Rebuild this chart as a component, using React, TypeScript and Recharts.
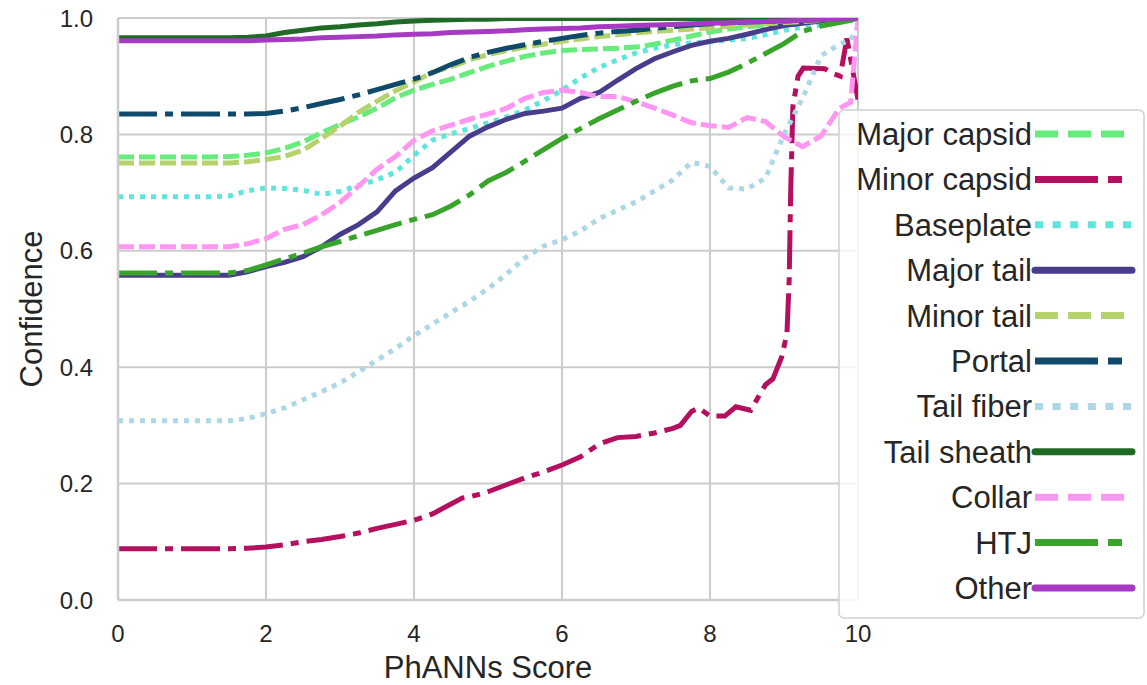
import React from "react";
import { LineChart, Line, XAxis, YAxis, CartesianGrid, Legend, Label } from "recharts";

// ---- data ----
const scores = [0, 0.25, 0.5, 0.75, 1, 1.25, 1.5, 1.75, 2, 2.25, 2.5, 2.75, 3, 3.25, 3.5, 3.75, 4, 4.25, 4.5, 4.75, 5, 5.25, 5.5, 5.75, 6, 6.25, 6.5, 6.75, 7, 7.25, 7.5, 7.75, 8, 8.25, 8.5, 8.75, 9, 9.25, 9.5, 9.75, 9.9, 10];

const majorCapsid = [0.761, 0.761, 0.761, 0.761, 0.761, 0.761, 0.762, 0.764, 0.768, 0.776, 0.787, 0.803, 0.817, 0.83, 0.845, 0.863, 0.876, 0.886, 0.895, 0.906, 0.917, 0.926, 0.934, 0.94, 0.944, 0.946, 0.947, 0.948, 0.95, 0.955, 0.962, 0.969, 0.976, 0.981, 0.985, 0.988, 0.991, 0.994, 0.996, 0.998, 0.999, 1.0];
const baseplate = [0.693, 0.693, 0.693, 0.693, 0.693, 0.693, 0.694, 0.703, 0.708, 0.707, 0.704, 0.697, 0.702, 0.712, 0.722, 0.735, 0.764, 0.79, 0.801, 0.81, 0.82, 0.83, 0.842, 0.858, 0.876, 0.897, 0.915, 0.928, 0.94, 0.948, 0.954, 0.957, 0.959, 0.962, 0.965, 0.971, 0.979, 0.984, 0.988, 0.993, 0.996, 1.0];
const majorTail = [0.558, 0.558, 0.558, 0.558, 0.558, 0.558, 0.558, 0.564, 0.573, 0.58, 0.59, 0.607, 0.628, 0.645, 0.667, 0.703, 0.725, 0.743, 0.77, 0.797, 0.813, 0.826, 0.836, 0.84, 0.845, 0.862, 0.872, 0.893, 0.913, 0.93, 0.942, 0.953, 0.96, 0.965, 0.972, 0.98, 0.987, 0.991, 0.995, 0.998, 0.999, 1.0];
const minorTail = [0.751, 0.751, 0.751, 0.751, 0.751, 0.751, 0.751, 0.753, 0.757, 0.762, 0.773, 0.793, 0.814, 0.838, 0.857, 0.875, 0.89, 0.907, 0.916, 0.928, 0.937, 0.944, 0.95, 0.955, 0.96, 0.964, 0.968, 0.971, 0.974, 0.977, 0.979, 0.981, 0.983, 0.986, 0.988, 0.99, 0.992, 0.994, 0.996, 0.998, 0.999, 1.0];
const portal = [0.835, 0.835, 0.835, 0.835, 0.835, 0.835, 0.835, 0.835, 0.836, 0.84, 0.846, 0.853, 0.86, 0.868, 0.877, 0.886, 0.895, 0.906, 0.92, 0.932, 0.941, 0.948, 0.954, 0.96, 0.965, 0.97, 0.974, 0.977, 0.979, 0.982, 0.985, 0.988, 0.99, 0.992, 0.993, 0.994, 0.995, 0.996, 0.997, 0.998, 0.999, 1.0];
const tailFiber = [0.308, 0.308, 0.308, 0.308, 0.308, 0.308, 0.308, 0.312, 0.32, 0.33, 0.344, 0.358, 0.373, 0.392, 0.412, 0.432, 0.454, 0.474, 0.494, 0.513, 0.535, 0.56, 0.588, 0.608, 0.619, 0.634, 0.655, 0.67, 0.684, 0.703, 0.722, 0.752, 0.745, 0.708, 0.706, 0.725, 0.8, 0.862, 0.935, 0.955, 0.962, 0.985];
const tailSheath = [0.966, 0.966, 0.966, 0.966, 0.966, 0.966, 0.966, 0.967, 0.969, 0.975, 0.979, 0.983, 0.985, 0.988, 0.99, 0.993, 0.995, 0.996, 0.997, 0.998, 0.998, 0.999, 0.999, 0.999, 0.999, 0.999, 0.999, 0.999, 0.999, 0.999, 0.999, 0.999, 0.999, 0.999, 0.999, 0.999, 0.999, 0.999, 0.999, 0.999, 1.0, 1.0];
const collar = [0.607, 0.607, 0.607, 0.607, 0.607, 0.607, 0.607, 0.612, 0.621, 0.637, 0.645, 0.662, 0.683, 0.711, 0.74, 0.762, 0.79, 0.806, 0.816, 0.826, 0.835, 0.845, 0.862, 0.872, 0.876, 0.872, 0.865, 0.865, 0.856, 0.845, 0.833, 0.82, 0.815, 0.812, 0.829, 0.822, 0.796, 0.779, 0.797, 0.845, 0.855, 0.998];
const htj = [0.562, 0.562, 0.562, 0.562, 0.562, 0.562, 0.562, 0.566, 0.576, 0.586, 0.596, 0.607, 0.616, 0.626, 0.635, 0.645, 0.654, 0.662, 0.677, 0.696, 0.72, 0.735, 0.754, 0.774, 0.793, 0.81, 0.827, 0.842, 0.857, 0.871, 0.883, 0.892, 0.896, 0.907, 0.922, 0.939, 0.956, 0.977, 0.986, 0.992, 0.996, 1.0];
const other = [0.961, 0.961, 0.961, 0.961, 0.961, 0.961, 0.961, 0.961, 0.962, 0.963, 0.964, 0.966, 0.967, 0.968, 0.969, 0.971, 0.972, 0.973, 0.975, 0.976, 0.977, 0.978, 0.98, 0.981, 0.982, 0.983, 0.985, 0.986, 0.987, 0.988, 0.989, 0.99, 0.991, 0.992, 0.993, 0.994, 0.995, 0.996, 0.997, 0.998, 0.999, 1.0];

const minorCapsidScores = [0, 1.5, 1.75, 2, 2.25, 2.5, 2.75, 3, 3.25, 3.5, 3.75, 4, 4.25, 4.5, 4.65, 4.75, 5, 5.25, 5.5, 5.75, 6, 6.25, 6.5, 6.75, 7, 7.25, 7.5, 7.6, 7.75, 7.85, 8, 8.2, 8.35, 8.55, 8.75, 8.85, 8.97, 9.04, 9.07, 9.09, 9.12, 9.19, 9.26, 9.55, 9.65, 9.76, 9.85, 10];
const minorCapsid = [0.088, 0.088, 0.089, 0.091, 0.095, 0.1, 0.104, 0.109, 0.115, 0.123, 0.13, 0.137, 0.148, 0.165, 0.175, 0.177, 0.186, 0.198, 0.21, 0.22, 0.232, 0.246, 0.268, 0.279, 0.281, 0.287, 0.295, 0.3, 0.324, 0.33, 0.316, 0.316, 0.332, 0.326, 0.37, 0.38, 0.418, 0.458, 0.55, 0.7, 0.848, 0.9, 0.914, 0.913, 0.905, 0.9, 0.965, 0.86];

const xTicks = [0, 2, 4, 6, 8, 10];
const yTicks = [0, 0.2, 0.4, 0.6, 0.8, 1.0];

type Style = "solid" | "dashed" | "dashdot" | "dotted";

const zip = (xs: number[], ys: number[]) => xs.map((x, i) => ({ x, y: ys[i] }));

const SERIES: { name: string; color: string; style: Style; data: { x: number; y: number }[] }[] = [
  { name: "Major capsid", color: "#66eb7c", style: "dashed", data: zip(scores, majorCapsid) },
  { name: "Minor capsid", color: "#b5105f", style: "dashdot", data: zip(minorCapsidScores, minorCapsid) },
  { name: "Baseplate", color: "#5de6dc", style: "dotted", data: zip(scores, baseplate) },
  { name: "Major tail", color: "#483d8b", style: "solid", data: zip(scores, majorTail) },
  { name: "Minor tail", color: "#b4d36d", style: "dashed", data: zip(scores, minorTail) },
  { name: "Portal", color: "#0f4a6d", style: "dashdot", data: zip(scores, portal) },
  { name: "Tail fiber", color: "#acd8e5", style: "dotted", data: zip(scores, tailFiber) },
  { name: "Tail sheath", color: "#1f6a25", style: "solid", data: zip(scores, tailSheath) },
  { name: "Collar", color: "#ff96f2", style: "dashed", data: zip(scores, collar) },
  { name: "HTJ", color: "#39a42b", style: "dashdot", data: zip(scores, htj) },
  { name: "Other", color: "#a63ac2", style: "solid", data: zip(scores, other) },
];

const plotDash: Record<Style, string | undefined> = {
  solid: undefined,
  dashed: "16 5",
  dashdot: "39 8 8 8",
  dotted: "5 6",
};
const legendDash: Record<Style, string | undefined> = {
  solid: undefined,
  dashed: "23 10",
  dashdot: "63 10 14 10",
  dotted: "8 9.6",
};

const FONT = '"Liberation Sans", Arial, Helvetica, sans-serif';
const TEXT = "#262626";
const GRID = "#cccccc";

const LegendBox = () => (
  <div style={{ width: 307, height: 510 }}>
    <svg width={307} height={510} style={{ display: "block" }}>
      <rect x={1} y={1} width={305} height={508} rx={5} ry={5} fill="rgba(255,255,255,0.8)" stroke="#d0d0d0" strokeWidth={1.5} />
      {SERIES.map((s, i) => {
        const cy = 25 + i * 45.4;
        return (
          <g key={s.name}>
            <text x={194} y={cy + 11} textAnchor="end" fontSize={31} fill={TEXT} fontFamily={FONT}>
              {s.name}
            </text>
            <line
              x1={197}
              x2={294}
              y1={cy}
              y2={cy}
              stroke={s.color}
              strokeWidth={7}
              strokeDasharray={legendDash[s.style]}
              strokeLinecap={s.style === "solid" ? "round" : "butt"}
            />
          </g>
        );
      })}
    </svg>
  </div>
);

const YLabel = (props: any) => {
  const vb = props.viewBox || { x: 58, y: 18, width: 60, height: 582 };
  const cx = vb.x - 16;
  const cy = vb.y + vb.height / 2;
  return (
    <text x={cx} y={cy} transform={`rotate(-90 ${cx} ${cy})`} textAnchor="middle" fontSize={31} fill={TEXT} fontFamily={FONT}>
      Confidence
    </text>
  );
};

export default function App() {
  return (
    <div style={{ position: "absolute", left: 0, top: 0, width: 1147, height: 685, background: "#fff", fontFamily: FONT }}>
      <LineChart width={1147} height={685} margin={{ top: 18, right: 289, bottom: 0, left: 58 }}>
        <CartesianGrid stroke={GRID} strokeWidth={2} horizontalValues={yTicks} verticalValues={xTicks} />
        <XAxis
          type="number"
          dataKey="x"
          domain={[0, 10]}
          ticks={xTicks}
          height={85}
          tickSize={0}
          tickMargin={25}
          tickLine={false}
          axisLine={{ stroke: GRID, strokeWidth: 2.5 }}
          tick={{ fill: TEXT, fontSize: 24, fontFamily: FONT }}
          allowDataOverflow
        >
          <Label value="PhANNs Score" position="insideBottom" offset={7} fontSize={31} fill={TEXT} fontFamily={FONT} />
        </XAxis>
        <YAxis
          type="number"
          dataKey="y"
          domain={[0, 1]}
          ticks={yTicks}
          width={60}
          tickSize={0}
          tickMargin={25}
          tickLine={false}
          axisLine={{ stroke: GRID, strokeWidth: 2.5 }}
          tickFormatter={(v: number) => v.toFixed(1)}
          tick={{ fill: TEXT, fontSize: 24, fontFamily: FONT }}
          allowDataOverflow
          label={<YLabel />}
        />
        {SERIES.map((s) => (
          <Line
            key={s.name}
            name={s.name}
            data={s.data}
            dataKey="y"
            type="linear"
            stroke={s.color}
            strokeWidth={5}
            strokeDasharray={plotDash[s.style]}
            dot={false}
            activeDot={false}
            isAnimationActive={false}
          />
        ))}
        <Legend
          content={<LegendBox />}
          layout="horizontal"
          verticalAlign="middle"
          align="center"
          wrapperStyle={{ left: 838, top: 109, width: 307, height: 510 }}
        />
      </LineChart>
    </div>
  );
}
